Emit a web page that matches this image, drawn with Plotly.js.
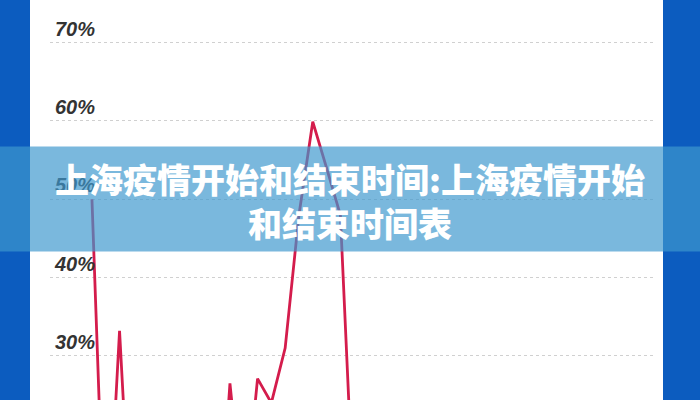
<!DOCTYPE html>
<html>
<head>
<meta charset="utf-8">
<script src="https://cdn.plot.ly/plotly-3.0.1.min.js"></script>
<style>html,body{margin:0;padding:0;background:#fff;}#chart{width:700px;height:400px;}</style>
</head>
<body>
<div id="chart"></div>
<script>
// Day index along the x axis
const days = [0,1,2,3,4,5,6,7,8,9,10,11,12,13,14,15,16,17,18,19,20];
// Percentage values (values below ~24% lie outside the visible crop)
const rates = [50.0,0.5,33.2,0.5,3,5,2,4,6,0.5,26.5,9,27.1,24.0,31.0,48,59.9,54,48,9,4];
const tickValues = [30,40,50,60,70];
const tickLabels = ['30%','40%','50%','60%','70%'];
const titleLine1 = '上海疫情开始和结束时间:上海疫情开始';
const titleLine2 = '和结束时间表';

const W = 700, H = 400, L = 50, R = 45;
const PW = W - L - R;
const px = v => (v - L) / PW;   // page x -> paper x
const py = v => 1 - v / H;       // page y -> paper y

const trace = {
  x: days, y: rates, type: 'scatter', mode: 'lines',
  line: {color: '#d41c4c', width: 2.8, shape: 'linear'},
  hoverinfo: 'skip', showlegend: false
};

const layout = {
  width: W, height: H,
  margin: {l: L, r: R, t: 0, b: 0, pad: 0},
  paper_bgcolor: '#ffffff', plot_bgcolor: '#ffffff',
  showlegend: false,
  xaxis: {range: [-3.04, 40.8], showgrid: false, zeroline: false, showticklabels: false, showline: false, ticks: ''},
  yaxis: {
    range: [24.37, 75.45], tickvals: tickValues, ticktext: tickLabels,
    ticklabelposition: 'inside top', ticklabelstandoff: 2,
    showgrid: true, gridcolor: '#d0d0d0', gridwidth: 1, griddash: '3px,3px',
    zeroline: false, showline: false, ticks: '',
    tickfont: {family: 'Liberation Sans', size: 20, color: '#333333', weight: 'bold', style: 'italic'}
  },
  shapes: [
    {type: 'rect', xref: 'paper', yref: 'paper', x0: px(0), x1: px(30), y0: 0, y1: 1,
     fillcolor: '#0c5cbf', line: {width: 0}, layer: 'below'},
    {type: 'rect', xref: 'paper', yref: 'paper', x0: px(663), x1: px(700), y0: 0, y1: 1,
     fillcolor: '#0c5cbf', line: {width: 0}, layer: 'below'},
    {type: 'rect', xref: 'paper', yref: 'paper', x0: px(0), x1: px(700), y0: py(251.5), y1: py(146.5),
     fillcolor: 'rgba(62,152,206,0.69)', line: {width: 0}, layer: 'above'}
  ],
  annotations: [
    {xref: 'paper', yref: 'paper', x: px(350), y: py(201), xanchor: 'center', yanchor: 'middle',
     text: titleLine1 + '<br>' + titleLine2, showarrow: false, align: 'center',
     font: {family: 'Noto Sans CJK SC', size: 34, color: '#ffffff', weight: 900}}
  ]
};

Plotly.newPlot('chart', [trace], layout, {displayModeBar: false, staticPlot: true});
</script>
</body>
</html>
